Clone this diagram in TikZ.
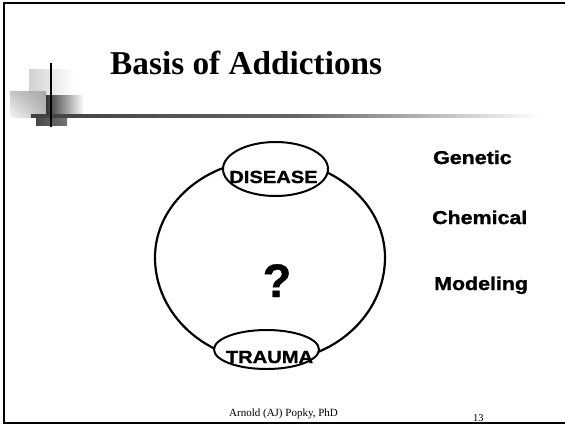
\documentclass[tikz,border=0pt]{standalone}
\usepackage{fontspec}
\setmainfont{Liberation Serif}
\newfontfamily\arialw[FakeStretch=1.15,FakeBold=1.2]{Liberation Sans Bold}
\newfontfamily\arialn[FakeBold=0.8]{Liberation Sans Bold}
\usetikzlibrary{shapes.geometric,shadings}
\tikzset{
  bubble/.style={draw=black, line width=2pt, fill=white, ellipse, inner sep=0pt},
  bubbletext/.style={anchor=base, inner sep=0pt, font=\arialw\fontsize{17.5}{18}\selectfont},
  sidelabel/.style={anchor=base west, inner sep=0pt, font=\arialw\fontsize{18.6}{19}\selectfont},
  foot/.style={anchor=base west, inner sep=0pt, font=\fontsize{11}{12}\selectfont}
}
\begin{document}
\begin{tikzpicture}[x=1pt,y=1pt]
\useasboundingbox (0,0) rectangle (565,-426);
\fill[white] (0,0) rectangle (565,-426);
% slide frame
\draw[line width=2pt, black] (567,-3) -- (4,-3) -- (4,-423) -- (567,-423);
% decoration
\shade[left color=gray!35, right color=white] (29,-69) rectangle (74,-95);
\shade[upper left=gray!45, upper right=gray!70, lower left=gray!8, lower right=gray!55] (10,-91) rectangle (46,-117);
\shade[left color=black!80, right color=white] (46,-95) rectangle (84,-113);
\shade[left color=black!72, right color=black!55] (36,-117) rectangle (67,-125);
\shade[left color=black!75, right color=black!60] (31,-114.6) rectangle (300,-117.6);
\shade[left color=black!60, right color=white] (300,-114.6) rectangle (540,-117.6);
\draw[line width=1.5pt, black] (51,-63) -- (51,-127);
% title
\node[anchor=base west, inner sep=0pt, font=\bfseries\fontsize{33.3}{36}\selectfont] (title) at (110,-74) {Basis of Addictions};
% big loop
\draw[line width=2.2pt] (155,-257.5) arc[start angle=180, end angle=0, x radius=115, y radius=98]
  arc[start angle=0, end angle=-180, x radius=115, y radius=104];
% bubbles
\node[bubble, minimum width=105pt, minimum height=54pt] (disease) at (275.5,-169) {};
\node[bubble, minimum width=105pt, minimum height=39pt] (trauma) at (266.5,-349.5) {};
\node[bubbletext] (diseaseT) at (273.5,-183) {DISEASE};
\node[bubbletext] (traumaT) at (269.5,-363) {TRAUMA};
% question mark
\node[anchor=base, inner sep=0pt, font=\arialn\fontsize{47}{50}\selectfont] (q) at (277,-297) {?};
% side labels
\node[sidelabel] (gen) at (433,-164) {Genetic};
\node[sidelabel] (chem) at (432,-224) {Chemical};
\node[sidelabel] (mod) at (434,-290) {Modeling};
% footer
\node[foot] (author) at (229,-416) {Arnold (AJ) Popky, PhD};
\node[foot, font=\fontsize{10.5}{12}\selectfont] (page) at (473,-421) {13};
\end{tikzpicture}
\end{document}
